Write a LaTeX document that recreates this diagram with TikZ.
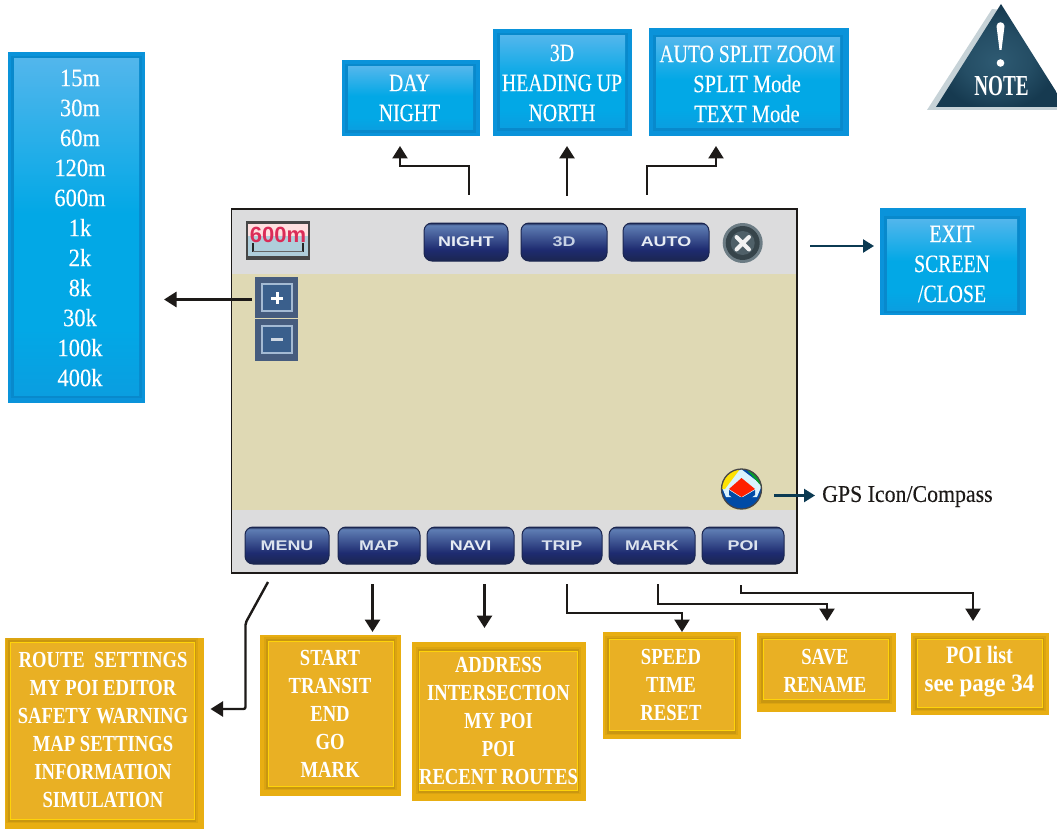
\documentclass[tikz,border=0pt]{standalone}
\usepackage{fontspec}
\usetikzlibrary{arrows.meta,shadings}
\newfontfamily\lab[FakeStretch=0.79,FakeBold=0.25]{Liberation Serif}
\newfontfamily\labm[FakeStretch=0.82,FakeBold=0.25]{Liberation Serif}
\newfontfamily\labn[FakeStretch=0.9,FakeBold=0.25]{Liberation Serif}
\newfontfamily\gpsfont[FakeStretch=0.91,FakeBold=0.25]{Liberation Serif}
\newfontfamily\labb[FakeStretch=0.81]{Liberation Serif}
\newfontfamily\labp[FakeStretch=0.92]{Liberation Serif}
\newfontfamily\notefont[FakeStretch=0.66]{Liberation Serif}
\newfontfamily\btnfont[FakeStretch=1.28]{Liberation Sans}
\newfontfamily\iconfont{Liberation Sans}
\definecolor{blueout}{HTML}{0A93DA}
\definecolor{bluetop}{HTML}{52B6EC}
\definecolor{bluemid}{HTML}{02A8E6}
\definecolor{bluebot}{HTML}{0A9EE0}
\definecolor{bluehalo}{HTML}{0674AE}
\definecolor{yelout}{HTML}{E8AE12}
\definecolor{yelin}{HTML}{E9B024}
\definecolor{yelline}{HTML}{FFD30A}
\definecolor{yelhalo}{HTML}{B58810}
\definecolor{scrgray}{HTML}{DCDCDD}
\definecolor{beige}{HTML}{DFD9B4}
\definecolor{btop}{HTML}{5F7EB4}
\definecolor{bbot}{HTML}{1E2B70}
\definecolor{bedge}{HTML}{1B2650}
\definecolor{teal}{HTML}{0B3A52}
\definecolor{ink}{HTML}{1D1A18}
\definecolor{notedark}{HTML}{163A50}
\definecolor{notemid}{HTML}{2E5A72}
\definecolor{noteshadow}{HTML}{C6D2D7}
\definecolor{zoomout}{HTML}{465C7E}
\definecolor{zoomin}{HTML}{3A5F8C}
\definecolor{zoomline}{HTML}{A4BAD3}
\definecolor{closerim}{HTML}{6C7C84}
\definecolor{closedark}{HTML}{36444A}
\definecolor{closemid}{HTML}{4F6068}
\pgfdeclareverticalshading{bluegrad}{100bp}{color(0bp)=(bluebot); color(25bp)=(bluebot); color(35bp)=(bluemid); color(52bp)=(bluemid); color(75bp)=(bluetop); color(100bp)=(bluetop)}
\pgfdeclareverticalshading{btngrad}{100bp}{color(0bp)=(bbot); color(25bp)=(bedge); color(40bp)=(bbot); color(72bp)=(btop); color(75bp)=(bedge); color(100bp)=(bedge)}
\pgfdeclareradialshading{notegrad}{\pgfpoint{0bp}{-3bp}}{color(0bp)=(notemid); color(14bp)=(notemid!60!notedark); color(25bp)=(notedark); color(50bp)=(notedark)}
\tikzset{
  conn/.style={draw=ink,line width=2.8pt,-{Triangle[length=12.5pt,width=15pt]}},
  elbow/.style={draw=ink,line width=2.4pt,-{Triangle[length=12.5pt,width=15pt]}},
  tealconn/.style={draw=teal,line width=2.4pt,-{Triangle[length=11pt,width=13pt]}},
  bluetext/.style={text=white,align=center,inner sep=0pt,font=\lab\fontsize{25}{30}\selectfont},
  yeltext/.style={text=white,align=center,inner sep=0pt,font=\labb\bfseries\fontsize{23}{28}\selectfont},
  btn/.style={rounded corners=8pt,draw=bedge,line width=1pt,shading=btngrad,text=white!85!btop,inner sep=0pt,font=\btnfont\bfseries\fontsize{14}{14}\selectfont},
}
\newcommand{\bluepanel}[8]{%
  \fill[blueout] (#1,#2) rectangle (#3,#4);
  \fill[bluehalo,opacity=.3] (#5-3,#6-3) rectangle (#7+3,#8+3);
  \shade[shading=bluegrad] (#5,#6) rectangle (#7,#8);
}
\newcommand{\yelpanel}[8]{%
  \fill[yelout] (#1,#2) rectangle (#3,#4);
  \fill[yelhalo,opacity=.25] (#5-4,#6-4) rectangle (#7+4,#8+4);
  \fill[yelhalo,opacity=.45] (#5-2,#6-2) rectangle (#7+2,#8+3);
  \fill[yelin,draw=yelline,line width=1pt] (#5,#6) rectangle (#7,#8);
}
\begin{document}
\begin{tikzpicture}[x=1pt,y=-1pt]
\useasboundingbox (0,0) rectangle (1057,829);
\fill[white] (0,0) rectangle (1057,829);

% --- blue panels
\bluepanel{8}{52}{145}{403}{14}{59}{139}{395}
\bluepanel{342}{60}{480}{136}{348}{67}{473}{130}
\bluepanel{493}{29}{632}{136}{500}{36}{625}{128}
\bluepanel{649}{28}{849}{136}{656}{38}{840}{128}
\bluepanel{880}{208}{1026}{315}{887}{219}{1017}{310}

\node[bluetext,font=\labn\fontsize{25}{30}\selectfont] (scales) at (80,228) {15m\\30m\\60m\\120m\\600m\\1k\\2k\\8k\\30k\\100k\\400k};
\node[bluetext] (daynight) at (409.5,98) {DAY\\NIGHT};
\node[bluetext] (headings) at (562,83) {3D\\HEADING UP\\NORTH};
\node[bluetext,font=\labm\fontsize{25}{30}\selectfont] (modes) at (747,84) {\lab AUTO SPLIT ZOOM\\SPLIT Mode\\TEXT Mode};
\node[bluetext] (exit) at (952,264) {EXIT\\SCREEN\\/CLOSE};

% --- screen
\fill[scrgray] (231.5,209) rectangle (797,573);
\fill[beige] (231.5,273.5) rectangle (797,509.5);
\draw[ink,line width=1.1pt] (231.5,209) rectangle (797,573);
\coordinate (screen) at (514,391);

% scale icon
\fill[black!72!white] (246,221) rectangle (310,260);
\fill[white!88!red] (248,224) rectangle (308,236);
\fill[white!70!cyan!70!gray] (248,236) rectangle (308,256);
\node[inner sep=0pt,text={rgb,255:red,218;green,44;blue,88},font=\iconfont\bfseries\fontsize{22}{22}\selectfont] (scaletext) at (278,234.5) {600m};
\draw[black!85,line width=1.6pt] (253,243) -- (253,252) (303,243) -- (303,252);
\draw[black!60,line width=1pt] (253,251) -- (303,251);

% top buttons
\node[btn,minimum width=84pt,minimum height=38pt] (night) at (466,242) {NIGHT};
\node[btn,minimum width=86pt,minimum height=38pt,text=white!65!btop] (threed) at (564,242) {3D};
\node[btn,minimum width=86pt,minimum height=38pt] (auto) at (666,242) {AUTO};
% close icon
\fill[closerim] (742.7,243) circle (20pt);
\fill[closedark] (742.7,243) circle (17pt);
\fill[closemid] (742.7,243) circle (12pt);
\draw[white!90!gray,line width=4pt,line cap=round] (736.5,237) -- (749,249.5) (749,237) -- (736.5,249.5);

% zoom buttons
\fill[zoomout] (255,277) rectangle (298,318);
\fill[zoomout] (255,319) rectangle (298,361);
\fill[zoomin,draw=zoomline,line width=1.6pt] (262,284) rectangle (292,311);
\fill[zoomin,draw=zoomline,line width=1.6pt] (262,326) rectangle (292,353);
\draw[white,line width=3pt] (271,298) -- (283,298) (277,292) -- (277,304);
\draw[white!75!zoomin,line width=3pt] (271,339) -- (283,339);
\coordinate (zoomplus) at (252,299.5);

% compass
\begin{scope}
\clip (741.5,489) circle [x radius=20,y radius=20];
\fill[blue!55!cyan!65!black] (721,469) rectangle (762,509);
\fill[white!85!cyan] (741,469) -- (721,485) -- (726,497) -- (757,497) -- (762,485) -- cycle;
\fill[yellow!85!orange] (722,469) -- (740,469) -- (725,489) -- (721,489) -- cycle;
\fill[green!50!teal] (746,469) -- (762,469) -- (762,487) -- cycle;
\fill[red!75!orange] (741.5,478) -- (755,489) -- (741.5,497) -- (729,489) -- cycle;
\fill[blue!55!cyan!65!black] (729,490) -- (741.5,498) -- (755,490) -- (755,495) -- (741.5,505) -- (729,495) -- cycle;
\end{scope}
\draw[black!45!gray,line width=1.3pt] (741.5,489) circle [x radius=20,y radius=20];

% bottom buttons
\node[btn,minimum width=84pt,minimum height=37pt,text=white!78!btop] (menu) at (287,545.5) {MENU};
\node[btn,minimum width=82pt,minimum height=37pt,text=white!78!btop] (map) at (379,545.5) {MAP};
\node[btn,minimum width=87pt,minimum height=37pt] (navi) at (470.5,545.5) {NAVI};
\node[btn,minimum width=80pt,minimum height=37pt,text=white!78!btop] (trip) at (562,545.5) {TRIP};
\node[btn,minimum width=86pt,minimum height=37pt,text=white!78!btop] (mark) at (652,545.5) {MARK};
\node[btn,minimum width=82pt,minimum height=37pt,text=white!78!btop] (poi) at (743,545.5) {POI};

% --- yellow panels
\yelpanel{5}{638}{204}{829}{10}{642}{194}{819}
\yelpanel{260}{635}{401}{796}{268}{641}{393}{786}
\yelpanel{412}{642}{586}{801}{419.5}{651}{577}{790}
\yelpanel{603}{632}{741}{739}{609}{639.5}{734}{730.5}
\yelpanel{757}{633}{896}{712}{763}{639.5}{888}{699.5}
\yelpanel{911}{633}{1049}{715}{917}{639.5}{1042}{707}

\node[yeltext] (menulist) at (103,730) {ROUTE\ \ SETTINGS\\MY POI EDITOR\\SAFETY WARNING\\MAP SETTINGS\\INFORMATION\\SIMULATION};
\node[yeltext] (maplist) at (330,714) {START\\TRANSIT\\END\\GO\\MARK};
\node[yeltext] (navilist) at (498.5,720.5) {ADDRESS\\INTERSECTION\\MY POI\\POI\\RECENT ROUTES};
\node[yeltext] (triplist) at (671,685) {SPEED\\TIME\\RESET};
\node[yeltext] (marklist) at (825,671) {SAVE\\RENAME};
\node[yeltext,font=\labp\bfseries\fontsize{25}{28}\selectfont] (poilist) at (979.5,671.5) {{\labb\bfseries POI list}\\see page 34};

% --- GPS label
\node[anchor=west,inner sep=0pt,font=\gpsfont\fontsize{24}{28}\selectfont,text=ink] (gpslabel) at (822,496.5) {GPS Icon/Compass};

% --- connector ends
\coordinate (dayS) at (469,195);  \coordinate (dayT) at (400,146);
\coordinate (hdS) at (567,196);   \coordinate (hdT) at (567,146);
\coordinate (autoS) at (647,195); \coordinate (autoT) at (716,146);
\coordinate (exitS) at (810,246); \coordinate (exitT) at (874,246);
\coordinate (gpsS) at (774,495.5);\coordinate (gpsT) at (815,495.5);
\coordinate (scaleT) at (164,299.5);
\coordinate (menuS) at (268,582); \coordinate (menuT) at (210.5,709);
\coordinate (mapS) at (372.5,584);\coordinate (mapT) at (372.5,632);
\coordinate (naviS) at (484.5,584);\coordinate (naviT) at (484.5,628);
\coordinate (tripS) at (567,584); \coordinate (tripT) at (682,632);
\coordinate (markS) at (658,584); \coordinate (markT) at (827,621);
\coordinate (poiS) at (741,585);  \coordinate (poiT) at (973,621);

% --- connectors
\draw[elbow] (dayS) -- (469,166) -- (400,166) -- (dayT);
\draw[conn] (hdS) -- (hdT);
\draw[elbow] (autoS) -- (647,166) -- (716,166) -- (autoT);
\draw[tealconn] (exitS) -- (exitT);
\draw[tealconn] (gpsS) -- (gpsT);
\draw[conn] (zoomplus) -- (scaleT);
\draw[elbow,rounded corners=2pt] (menuS) -- (245.5,623) -- (245.5,709) -- (menuT);
\draw[conn] (mapS) -- (mapT);
\draw[conn] (naviS) -- (naviT);
\draw[elbow] (tripS) -- (567,613) -- (682,613) -- (tripT);
\draw[elbow] (markS) -- (658,604) -- (827,604) -- (markT);
\draw[elbow] (poiS) -- (741,593) -- (973,593) -- (poiT);

% --- note sign
\fill[noteshadow] (992,9) -- (927,110) -- (1057,110) -- (1057,93) -- (1001,10) -- cycle;
\shade[shading=notegrad] (1001,4) -- (1057,93) -- (1057,107) -- (936,107) -- cycle;
\fill[white] (996.5,26) .. controls (997,21) and (1004,21) .. (1004.5,26) -- (1001.5,50) -- (999.5,50) -- cycle;
\fill[white] (1000.5,63) circle (3.8pt);
\node[inner sep=0pt,text=white,font=\notefont\bfseries\fontsize{29}{29}\selectfont] (note) at (1001.5,86) {NOTE};
\end{tikzpicture}
\end{document}
